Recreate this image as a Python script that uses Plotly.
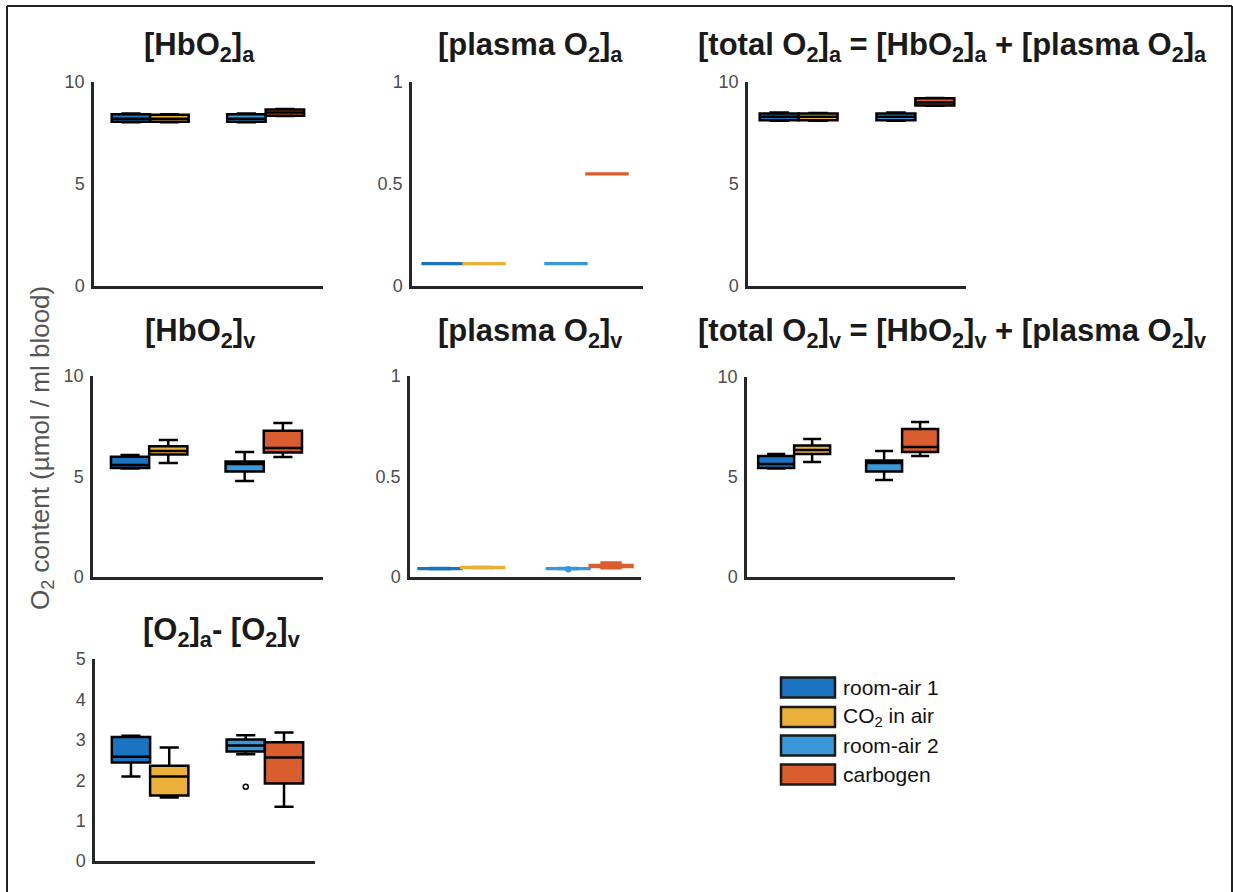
import plotly.graph_objects as go

W, H = 1233, 892

groups = ["room-air 1", "CO<sub>2</sub> in air", "room-air 2", "carbogen"]
colors = ["#1a74c0", "#ebb03a", "#3b98d8", "#da5d2f"]
positions = [1, 2, 4, 5]

titles = [
    "<b>[HbO<sub>2</sub>]<sub>a</sub></b>",
    "<b>[plasma O<sub>2</sub>]<sub>a</sub></b>",
    "<b>[total O<sub>2</sub>]<sub>a</sub> = [HbO<sub>2</sub>]<sub>a</sub> + [plasma O<sub>2</sub>]<sub>a</sub></b>",
    "<b>[HbO<sub>2</sub>]<sub>v</sub></b>",
    "<b>[plasma O<sub>2</sub>]<sub>v</sub></b>",
    "<b>[total O<sub>2</sub>]<sub>v</sub> = [HbO<sub>2</sub>]<sub>v</sub> + [plasma O<sub>2</sub>]<sub>v</sub></b>",
    "<b>[O<sub>2</sub>]<sub>a</sub>- [O<sub>2</sub>]<sub>v</sub></b>",
]

# box statistics per panel (q1, median, q3, lower whisker, upper whisker)
hbo2_a = dict(q1=[8.05, 8.05, 8.05, 8.35], med=[8.2, 8.2, 8.2, 8.5],
              q3=[8.42, 8.40, 8.42, 8.65], lo=[8.03, 8.03, 8.03, 8.33], hi=[8.46, 8.42, 8.46, 8.68])
plasma_a = dict(q1=[0.108, 0.108, 0.108, 0.548], med=[0.110, 0.110, 0.110, 0.550],
                q3=[0.112, 0.112, 0.112, 0.552], lo=[0.108, 0.108, 0.108, 0.548], hi=[0.112, 0.112, 0.112, 0.552])
total_a = dict(q1=[8.12, 8.12, 8.12, 8.85], med=[8.3, 8.3, 8.3, 9.0],
               q3=[8.45, 8.45, 8.45, 9.2], lo=[8.10, 8.10, 8.10, 8.83], hi=[8.50, 8.48, 8.50, 9.22])
hbo2_v = dict(q1=[5.42, 6.10, 5.25, 6.20], med=[5.57, 6.27, 5.62, 6.42],
              q3=[5.98, 6.50, 5.75, 7.28], lo=[5.40, 5.67, 4.78, 5.97], hi=[6.07, 6.82, 6.22, 7.66])
plasma_v = dict(q1=[0.040, 0.045, 0.040, 0.050], med=[0.042, 0.048, 0.042, 0.055],
                q3=[0.044, 0.050, 0.044, 0.060], lo=[0.039, 0.044, 0.039, 0.044], hi=[0.045, 0.051, 0.045, 0.072])
total_v = dict(q1=[5.45, 6.15, 5.28, 6.25], med=[5.65, 6.35, 5.70, 6.50],
               q3=[6.05, 6.58, 5.82, 7.40], lo=[5.43, 5.75, 4.85, 6.05], hi=[6.15, 6.90, 6.30, 7.75])
diff_av = dict(q1=[2.44, 1.62, 2.71, 1.92], med=[2.58, 2.09, 2.86, 2.56],
               q3=[3.07, 2.36, 3.01, 2.94], lo=[2.09, 1.57, 2.64, 1.34], hi=[3.10, 2.81, 3.11, 3.18])

# outliers: (panel index, group index, value)
outlier_panel = [4, 6]
outlier_group = [2, 2]
outlier_value = [0.038, 1.84]

panels = [hbo2_a, plasma_a, total_a, hbo2_v, plasma_v, total_v, diff_av]
y_max = [10, 1, 10, 10, 1, 10, 5]
y_ticks = [[0, 5, 10], [0, 0.5, 1], [0, 5, 10], [0, 5, 10], [0, 0.5, 1], [0, 5, 10], [0, 1, 2, 3, 4, 5]]
thin_panels = [1, 4]  # boxes drawn without black outline

# layout geometry (pixels)
px_x = [(94, 323), (412, 643), (748, 966), (93, 323), (410, 641), (747, 955), (95, 315)]
px_y = [(82, 286), (82, 286), (82, 286), (376, 577), (376, 577), (377, 577), (659, 861)]
x_ranges = [(0.04, 5.99), (0.24, 5.88), (0.2, 5.8), (0.03, 6.05), (0.3, 5.7), (0.19, 5.97), (0.06, 5.81)]
title_pos = [(199, 47), (530, 47), (952, 47), (200, 333), (530, 333), (952, 333), (221, 632)]

FONT = "Liberation Sans, Arial, sans-serif"
AX = "#262626"

fig = go.Figure()
layout = dict(width=W, height=H, margin=dict(l=0, r=0, t=0, b=0, autoexpand=False),
              template="none",
              paper_bgcolor="white", plot_bgcolor="white", showlegend=False,
              boxmode="overlay")

def fx(p):
    return p / W

def fy(p):
    return 1 - p / H

annotations = []
shapes = []
for i, st in enumerate(panels):
    n = i + 1
    xa = "x" if n == 1 else f"x{n}"
    ya = "y" if n == 1 else f"y{n}"
    for g in range(4):
        edge = colors[g] if i in thin_panels else "black"
        fig.add_trace(go.Box(
            x=[positions[g]], q1=[st["q1"][g]], median=[st["med"][g]], q3=[st["q3"][g]],
            lowerfence=[st["lo"][g]], upperfence=[st["hi"][g]],
            width=1, whiskerwidth=0.5, fillcolor=colors[g],
            line=dict(color=edge, width=2.5), boxpoints=False,
            xaxis=xa, yaxis=ya, name=groups[g]))
    for p, g, v in zip(outlier_panel, outlier_group, outlier_value):
        if p == i:
            mc = colors[g] if i in thin_panels else "black"
            fig.add_trace(go.Scatter(
                x=[positions[g]], y=[v], mode="markers",
                marker=dict(symbol="circle-open" if i not in thin_panels else "circle",
                            size=5, color=mc, line=dict(width=1.5, color=mc)),
                xaxis=xa, yaxis=ya))
    x0, x1 = px_x[i]
    y0, y1 = px_y[i]
    layout["xaxis" if n == 1 else f"xaxis{n}"] = dict(
        domain=[fx(x0), fx(x1)], range=list(x_ranges[i]), anchor=ya, automargin=False,
        showline=True, linecolor=AX, linewidth=2.5, showticklabels=False,
        showgrid=False, zeroline=False, ticks="")
    layout["yaxis" if n == 1 else f"yaxis{n}"] = dict(
        domain=[fy(y1), fy(y0)], range=[0, y_max[i]], anchor=xa, automargin=False,
        tickvals=y_ticks[i], showline=True, linecolor=AX, linewidth=2.5,
        showgrid=False, zeroline=False, ticks="", ticklabelstandoff=3,
        tickfont=dict(family=FONT, size=18, color="#4d4d4d"))
    tx, ty = title_pos[i]
    annotations.append(dict(text=titles[i], x=fx(tx), y=fy(ty), xref="paper", yref="paper",
                            xanchor="center", yanchor="middle", showarrow=False,
                            font=dict(family=FONT, size=31, color="#1a1a1a")))

# y-axis label
annotations.append(dict(text="O<sub>2</sub> content (µmol / ml blood)", x=fx(41), y=fy(448),
                        xref="paper", yref="paper", textangle=-90, showarrow=False,
                        xanchor="center", yanchor="middle",
                        font=dict(family=FONT, size=26, color="#555555")))

# legend
leg_rows = [687.5, 717, 745.5, 774.5]
for g in range(4):
    yc = leg_rows[g]
    shapes.append(dict(type="rect", xref="paper", yref="paper",
                       x0=fx(781), x1=fx(835), y0=fy(yc + 10), y1=fy(yc - 10),
                       fillcolor=colors[g], line=dict(color="#1a1a1a", width=2.5)))
    annotations.append(dict(text=groups[g], x=fx(841), y=fy(yc), xref="paper", yref="paper",
                            xanchor="left", yanchor="middle", showarrow=False,
                            font=dict(family=FONT, size=21, color="#111111")))

# outer frame
for (xa0, ya0, xa1, ya1) in [(7, 6, 1232, 6), (7, 6, 7, 892), (1232, 6, 1232, 892)]:
    shapes.append(dict(type="line", xref="paper", yref="paper",
                       x0=fx(xa0), y0=fy(ya0), x1=fx(xa1), y1=fy(ya1),
                       line=dict(color="#222222", width=2)))

layout["annotations"] = annotations
layout["shapes"] = shapes
fig.update_layout(**layout)
fig.write_html("out.html", config={"displayModeBar": False},
               post_script="document.body.style.margin='0';document.body.style.overflow='hidden';")
